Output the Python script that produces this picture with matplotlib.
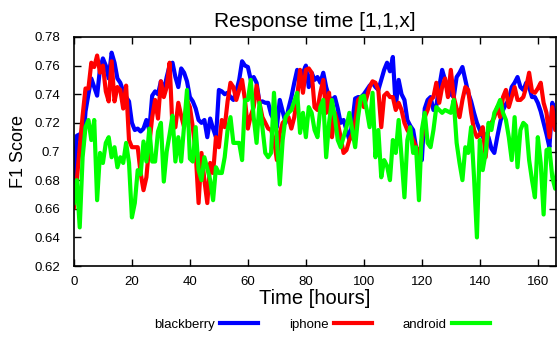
import numpy as np
import matplotlib
matplotlib.use("Agg")
import matplotlib.pyplot as plt

plt.rcParams["font.family"] = ["Liberation Sans", "DejaVu Sans"]

# hourly F1 scores
hours = np.arange(168)

blackberry = [
    0.678, 0.711, 0.712, 0.700, 0.728, 0.740, 0.751, 0.745, 0.739, 0.758,
    0.765, 0.760, 0.751, 0.769, 0.762, 0.751, 0.748, 0.742, 0.738, 0.735,
    0.720, 0.715, 0.716, 0.714, 0.716, 0.722, 0.715, 0.739, 0.742, 0.740,
    0.749, 0.742, 0.752, 0.760, 0.762, 0.752, 0.745, 0.758, 0.755, 0.749,
    0.738, 0.735, 0.730, 0.722, 0.720, 0.722, 0.710, 0.723, 0.716, 0.710,
    0.743, 0.742, 0.740, 0.741, 0.738, 0.736, 0.742, 0.750, 0.763, 0.760,
    0.759, 0.750, 0.752, 0.748, 0.734, 0.735, 0.734, 0.734, 0.726, 0.722,
    0.717, 0.736, 0.728, 0.720, 0.730, 0.738, 0.748, 0.757, 0.748, 0.755,
    0.760, 0.745, 0.755, 0.750, 0.752, 0.748, 0.755, 0.745, 0.738, 0.736,
    0.738, 0.730, 0.720, 0.722, 0.715, 0.708, 0.720, 0.737, 0.738, 0.738,
    0.740, 0.743, 0.746, 0.748, 0.745, 0.743, 0.750, 0.757, 0.762, 0.756,
    0.766, 0.731, 0.750, 0.740, 0.736, 0.722, 0.718, 0.715, 0.703, 0.700,
    0.694, 0.730, 0.736, 0.738, 0.729, 0.732, 0.745, 0.757, 0.750, 0.745,
    0.740, 0.738, 0.752, 0.755, 0.759, 0.750, 0.741, 0.735, 0.727, 0.720,
    0.715, 0.710, 0.712, 0.710, 0.702, 0.699, 0.710, 0.720, 0.729, 0.733,
    0.736, 0.745, 0.748, 0.752, 0.745, 0.743, 0.748, 0.745, 0.738, 0.738,
    0.734, 0.728, 0.720, 0.712, 0.703, 0.734, 0.725, 0.720,
]

iphone = [
    0.661, 0.680, 0.703, 0.725, 0.744, 0.744, 0.762, 0.759, 0.767, 0.755,
    0.760, 0.742, 0.735, 0.763, 0.735, 0.745, 0.743, 0.730, 0.746, 0.708,
    0.703, 0.703, 0.703, 0.685, 0.673, 0.682, 0.705, 0.724, 0.736, 0.723,
    0.749, 0.738, 0.745, 0.762, 0.716, 0.717, 0.734, 0.725, 0.717, 0.736,
    0.731, 0.717, 0.699, 0.664, 0.699, 0.680, 0.664, 0.692, 0.685, 0.710,
    0.703, 0.722, 0.717, 0.735, 0.748, 0.745, 0.736, 0.743, 0.750, 0.736,
    0.716, 0.725, 0.731, 0.746, 0.734, 0.724, 0.720, 0.716, 0.715, 0.708,
    0.694, 0.713, 0.720, 0.722, 0.724, 0.716, 0.724, 0.738, 0.757, 0.741,
    0.757, 0.758, 0.755, 0.731, 0.729, 0.741, 0.750, 0.727, 0.741, 0.710,
    0.727, 0.720, 0.710, 0.699, 0.701, 0.708, 0.712, 0.720, 0.736, 0.738,
    0.731, 0.738, 0.745, 0.749, 0.748, 0.743, 0.717, 0.739, 0.741, 0.738,
    0.738, 0.729, 0.734, 0.729, 0.720, 0.715, 0.712, 0.708, 0.703, 0.696,
    0.708, 0.724, 0.729, 0.736, 0.738, 0.748, 0.734, 0.745, 0.751, 0.738,
    0.757, 0.738, 0.730, 0.724, 0.736, 0.745, 0.743, 0.727, 0.715, 0.710,
    0.712, 0.717, 0.696, 0.717, 0.720, 0.724, 0.731, 0.724, 0.738, 0.743,
    0.731, 0.738, 0.745, 0.736, 0.736, 0.738, 0.745, 0.755, 0.742, 0.741,
    0.744, 0.748, 0.734, 0.727, 0.710, 0.731, 0.715, 0.722,
]

android = [
    0.664, 0.680, 0.647, 0.696, 0.717, 0.722, 0.708, 0.722, 0.666, 0.699,
    0.692, 0.706, 0.710, 0.696, 0.703, 0.689, 0.696, 0.692, 0.706, 0.692,
    0.654, 0.664, 0.687, 0.684, 0.707, 0.693, 0.716, 0.693, 0.693, 0.714,
    0.720, 0.679, 0.700, 0.712, 0.725, 0.693, 0.710, 0.693, 0.718, 0.743,
    0.695, 0.693, 0.717, 0.687, 0.680, 0.696, 0.688, 0.680, 0.666, 0.689,
    0.685, 0.685, 0.696, 0.715, 0.724, 0.706, 0.706, 0.706, 0.694, 0.736,
    0.736, 0.750, 0.724, 0.706, 0.734, 0.717, 0.699, 0.696, 0.699, 0.741,
    0.708, 0.677, 0.708, 0.724, 0.727, 0.729, 0.735, 0.741, 0.713, 0.727,
    0.710, 0.731, 0.727, 0.715, 0.710, 0.731, 0.736, 0.696, 0.720, 0.736,
    0.724, 0.708, 0.703, 0.710, 0.717, 0.727, 0.715, 0.703, 0.724, 0.738,
    0.739, 0.729, 0.717, 0.741, 0.696, 0.715, 0.682, 0.694, 0.690, 0.680,
    0.708, 0.699, 0.722, 0.696, 0.668, 0.708, 0.717, 0.699, 0.703, 0.666,
    0.715, 0.727, 0.706, 0.703, 0.715, 0.731, 0.729, 0.727, 0.729, 0.728,
    0.727, 0.736, 0.706, 0.692, 0.680, 0.703, 0.699, 0.717, 0.682, 0.640,
    0.708, 0.687, 0.699, 0.720, 0.715, 0.727, 0.731, 0.736, 0.727, 0.722,
    0.710, 0.694, 0.724, 0.689, 0.715, 0.720, 0.718, 0.694, 0.680, 0.668,
    0.710, 0.692, 0.656, 0.701, 0.702, 0.682, 0.674, 0.695,
]

xticks = np.arange(0, 161, 20)
yticks = [0.62, 0.64, 0.66, 0.68, 0.70, 0.72, 0.74, 0.76, 0.78]
ytick_labels = ["0.62", "0.64", "0.66", "0.68", "0.7", "0.72", "0.74", "0.76", "0.78"]

fig = plt.figure(figsize=(5.6, 3.42), dpi=100)
ax = fig.add_axes([0.132, 0.222, 0.861, 0.670])

ax.plot(hours, blackberry, color="#0000ff", lw=3, label="blackberry")
ax.plot(hours, iphone, color="#ff0000", lw=3, label="iphone")
ax.plot(hours, android, color="#00ff00", lw=3, label="android")

ax.set_xlim(0, 166.3)
ax.set_ylim(0.62, 0.78)
ax.set_xticks(xticks)
ax.set_yticks(yticks)
ax.set_yticklabels(ytick_labels)
ax.tick_params(direction="in", top=True, right=True, length=5, width=1,
               labelsize=9.5)
ax.tick_params(axis="x", pad=7)
ax.tick_params(axis="y", pad=10)
for s in ax.spines.values():
    s.set_linewidth(1.2)

ax.set_title("Response time [1,1,x]", fontsize=15, pad=7)
ax.set_xlabel("Time [hours]", fontsize=14.5, labelpad=1)
ax.set_ylabel("F1 Score", fontsize=13, labelpad=5)

fig.legend(loc="center", bbox_to_anchor=(0.575, 0.05), ncol=3,
           markerfirst=False, frameon=False, fontsize=9.5,
           handlelength=2.9, columnspacing=2.3, handletextpad=0.4)

fig.savefig("out.png", dpi=100)
